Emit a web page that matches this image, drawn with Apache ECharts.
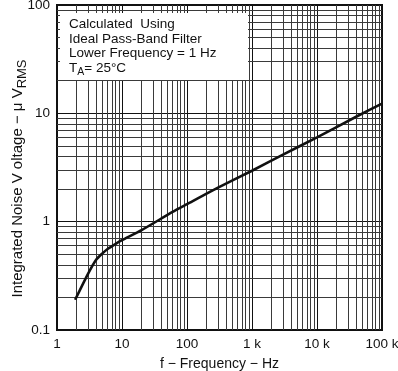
<!DOCTYPE html>
<html>
<head>
<meta charset="utf-8">
<script src="https://cdn.jsdelivr.net/npm/echarts@6/dist/echarts.min.js"></script>
<style>
html,body{margin:0;padding:0;background:#fff;}
#c{width:398px;height:371px;}
</style>
</head>
<body>
<div id="c"></div>
<script>
const xTickValues = [1, 10, 100, 1000, 10000, 100000];
const xTickLabels = ['1', '10', '100', '1 k', '10 k', '100 k'];
const yTickValues = [0.1, 1, 10, 100];
const yTickLabels = ['0.1', '1', '10', '100'];
const minorMultipliers = [2, 3, 4, 5, 6, 7, 8, 9];

const freq  = [1.9, 3, 4, 5, 6, 8, 10, 20, 60, 100, 300, 1000, 3000, 10000, 40000, 100000];
const noise = [0.19, 0.33, 0.445, 0.51, 0.56, 0.625, 0.675, 0.835, 1.23, 1.45, 2.06, 2.95, 4.16, 6.0, 9.3, 12.3];

const annotationLines = ['Calculated  Using', 'Ideal Pass-Band Filter', 'Lower Frequency = 1 Hz'];

const FONT = '"Liberation Sans", Arial, Helvetica, sans-serif';

function labelFor(values, labels) {
  return function (v) {
    for (let i = 0; i < values.length; i++) {
      if (Math.abs(Math.log10(v) - Math.log10(values[i])) < 1e-6) return labels[i];
    }
    return '';
  };
}

const xMinor = [];
for (let i = 0; i < xTickValues.length - 1; i++) minorMultipliers.forEach(m => xMinor.push({ xAxis: xTickValues[i] * m }));
const yMinor = [];
for (let i = 0; i < yTickValues.length - 1; i++) minorMultipliers.forEach(m => yMinor.push({ yAxis: +(yTickValues[i] * m).toPrecision(6) }));

const gridColor = '#3a3a3a';

const chart = echarts.init(document.getElementById('c'), null, { renderer: 'canvas' });
chart.setOption({
  animation: false,
  backgroundColor: '#fff',
  textStyle: { fontFamily: FONT },
  grid: { left: 57, right: 16, top: 5, bottom: 41, containLabel: false, outerBoundsMode: 'none',
          show: true, borderColor: '#111', borderWidth: 2, backgroundColor: '#fff', z: 0 },
  xAxis: {
    type: 'log', logBase: 10, min: 1, max: 100000, splitNumber: 5,
    axisLine: { show: true, lineStyle: { color: '#111', width: 2 } },
    axisTick: { show: false },
    axisLabel: { formatter: labelFor(xTickValues, xTickLabels), color: '#111', fontSize: 13.5, fontFamily: FONT, margin: 7 },
    splitLine: { show: true, lineStyle: { color: '#111', width: 1 } },
    name: 'f − Frequency − Hz', nameLocation: 'middle', nameGap: 27, nameMoveOverlap: false,
    nameTextStyle: { color: '#111', fontSize: 14, fontFamily: FONT }
  },
  yAxis: {
    type: 'log', logBase: 10, min: 0.1, max: 100, splitNumber: 3,
    axisLine: { show: true, lineStyle: { color: '#111', width: 2 } },
    axisTick: { show: false },
    axisLabel: { formatter: labelFor(yTickValues, yTickLabels), color: '#111', fontSize: 13.5, fontFamily: FONT, margin: 7 },
    splitLine: { show: true, lineStyle: { color: '#111', width: 1 } },
    name: '{a|Integrated Noise V oltage − μ V}{b|RMS}', nameLocation: 'middle', nameGap: 28, nameRotate: 90,
    nameMoveOverlap: false,
    nameTextStyle: {
      color: '#111', fontFamily: FONT, padding: [0, 22, 0, 0],
      rich: {
        a: { fontSize: 15, lineHeight: 22, verticalAlign: 'middle', color: '#111', fontFamily: FONT },
        b: { fontSize: 13, lineHeight: 12, verticalAlign: 'bottom', color: '#111', fontFamily: FONT }
      }
    }
  },
  graphic: [
    { type: 'rect', z: 100, shape: { x: 60, y: 13, width: 188, height: 67 }, style: { fill: '#fff' } },
    { type: 'text', z: 101, x: 69, y: 24.5, style: { text: annotationLines[0], font: '13.5px ' + FONT, fill: '#111', verticalAlign: 'middle' } },
    { type: 'text', z: 101, x: 69, y: 39, style: { text: annotationLines[1], font: '13.5px ' + FONT, fill: '#111', verticalAlign: 'middle' } },
    { type: 'text', z: 101, x: 69, y: 53.5, style: { text: annotationLines[2], font: '13.5px ' + FONT, fill: '#111', verticalAlign: 'middle' } },
    { type: 'text', z: 101, x: 69, y: 68, style: {
        text: '{t|T}{s|A}{t|= 25°C}', verticalAlign: 'middle', fill: '#111',
        rich: {
          t: { fontSize: 13.5, lineHeight: 20, fontFamily: FONT, fill: '#111', verticalAlign: 'middle' },
          s: { fontSize: 10.5, lineHeight: 10, fontFamily: FONT, fill: '#111', verticalAlign: 'bottom' }
        } } }
  ],
  series: [
    {
      type: 'line', data: [], silent: true, z: 1,
      markLine: {
        silent: true, symbol: ['none', 'none'], label: { show: false },
        lineStyle: { color: gridColor, width: 1, type: 'solid' },
        animation: false,
        data: xMinor.concat(yMinor)
      }
    },
    {
      type: 'line', z: 5,
      data: freq.map((f, i) => [f, noise[i]]),
      showSymbol: false, symbol: 'none', smooth: 0.2,
      lineStyle: { color: '#111', width: 2.6 }
    }
  ]
});
</script>
</body>
</html>
